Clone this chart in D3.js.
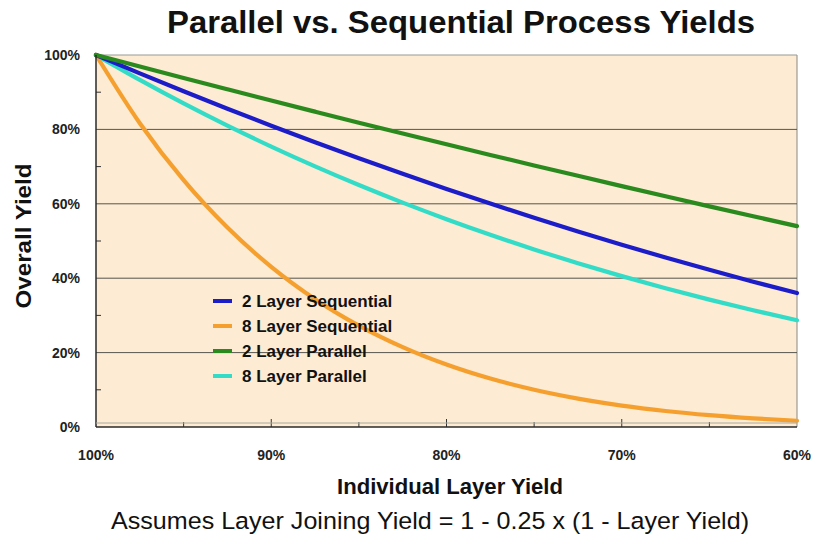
<!DOCTYPE html>
<html><head><meta charset="utf-8">
<script src="https://cdn.jsdelivr.net/npm/d3@7"></script>
<style>
body{margin:0;background:#fff;}
svg{display:block;font-family:"Liberation Sans",Arial,sans-serif;}
</style></head>
<body><svg id="c" width="816" height="538"></svg>
<script>
const layerYield = [1.000,0.975,0.950,0.925,0.900,0.875,0.850,0.825,0.800,0.775,0.750,0.725,0.700,0.675,0.650,0.625,0.600];
const seq2 = [1.0,0.9506,0.9025,0.8556,0.81,0.7656,0.7225,0.6806,0.64,0.6006,0.5625,0.5256,0.49,0.4556,0.4225,0.3906,0.36];
const seq8 = [1.0,0.8167,0.6634,0.5360,0.4305,0.3436,0.2725,0.2146,0.1678,0.1301,0.1001,0.0763,0.0576,0.0431,0.0319,0.0233,0.0168];
const par2 = [1.0,0.9689,0.9381,0.9077,0.8775,0.8477,0.8181,0.7889,0.76,0.7314,0.7031,0.6752,0.6475,0.6202,0.5931,0.5664,0.54];
const par8 = [1.0,0.9331,0.8699,0.8102,0.7538,0.7006,0.6505,0.6032,0.5587,0.5168,0.4774,0.4404,0.4056,0.3730,0.3424,0.3138,0.2870];
const seriesNames = ["2 Layer Sequential","8 Layer Sequential","2 Layer Parallel","8 Layer Parallel"];
const seriesColors = ["#1c1cc8","#f5a02e","#2a8a1e","#33dcc6"];
const xTicks = [1.0,0.9,0.8,0.7,0.6];
const yTicks = [0,0.2,0.4,0.6,0.8,1.0];

const svg = d3.select("#c");
const L=96,R=797,T=55,B=427;
const x = d3.scaleLinear().domain([1.0,0.6]).range([L,R]);
const y = d3.scaleLinear().domain([0,1]).range([B,T]);

svg.append("rect").attr("x",L).attr("y",T).attr("width",R-L).attr("height",B-T).attr("fill","#fdebd3");

svg.append("line").attr("x1",L).attr("x2",R).attr("y1",T).attr("y2",T).attr("stroke","#9a9a94").attr("stroke-width",1.2);
svg.append("line").attr("x1",R).attr("x2",R).attr("y1",T).attr("y2",B).attr("stroke","#9a9a94").attr("stroke-width",1.2);

svg.append("g").selectAll("line").data([0.2,0.4,0.6,0.8]).join("line")
  .attr("x1",L).attr("x2",R).attr("y1",d=>y(d)).attr("y2",d=>y(d))
  .attr("stroke","#55554f").attr("stroke-width",1);

svg.append("g").selectAll("line").data([0.1,0.3,0.5,0.7,0.9]).join("line")
  .attr("x1",L).attr("x2",L+5).attr("y1",d=>y(d)).attr("y2",d=>y(d)).attr("stroke","#333").attr("stroke-width",1);
svg.append("g").selectAll("line").data([0.95,0.9,0.85,0.8,0.75,0.7,0.65]).join("line")
  .attr("x1",d=>x(d)).attr("x2",d=>x(d)).attr("y1",B).attr("y2",d=>B-(Math.round(d*100)%10===0?8:5)).attr("stroke","#333").attr("stroke-width",1);

const line = d3.line().x((d,i)=>x(layerYield[i])).y(d=>y(d)).curve(d3.curveMonotoneX);
const data = [seq2,seq8,par2,par8];
[3,1,0,2].forEach(k=>{
  svg.append("path").datum(data[k]).attr("d",line).attr("fill","none")
    .attr("stroke",seriesColors[k]).attr("stroke-width",4.2).attr("stroke-linecap","round");
});

svg.append("line").attr("x1",L).attr("x2",L).attr("y1",T).attr("y2",B).attr("stroke","#2a2a2a").attr("stroke-width",1.5);
svg.append("line").attr("x1",L).attr("x2",R).attr("y1",B-4).attr("y2",B-4).attr("stroke","#a8a89c").attr("stroke-width",1);
svg.append("line").attr("x1",L).attr("x2",R).attr("y1",B).attr("y2",B).attr("stroke","#2a2a2a").attr("stroke-width",1.5);

const pct = d3.format(".0%");
svg.append("g").selectAll("text").data(yTicks).join("text")
  .attr("x",80).attr("y",d=>y(d)+5).attr("text-anchor","end")
  .attr("font-size",14).attr("font-weight","bold").attr("fill","#222").text(pct);
svg.append("g").selectAll("text").data(xTicks).join("text")
  .attr("x",d=>x(d)).attr("y",460).attr("text-anchor","middle")
  .attr("font-size",14).attr("font-weight","bold").attr("fill","#222").text(pct);

svg.append("text").attr("x",461).attr("y",33).attr("text-anchor","middle")
  .attr("font-size",32).attr("font-weight","bold").attr("fill","#111")
  .attr("textLength",588).attr("lengthAdjust","spacingAndGlyphs").text("Parallel vs. Sequential Process Yields");
svg.append("text").attr("x",450).attr("y",494).attr("text-anchor","middle")
  .attr("font-size",21.5).attr("font-weight","bold").attr("fill","#111")
  .attr("textLength",226).attr("lengthAdjust","spacingAndGlyphs").text("Individual Layer Yield");
svg.append("text").attr("x",430).attr("y",529).attr("text-anchor","middle")
  .attr("font-size",24.5).attr("fill","#111")
  .attr("textLength",638).attr("lengthAdjust","spacingAndGlyphs").text("Assumes Layer Joining Yield = 1 - 0.25 x (1 - Layer Yield)");
svg.append("text").attr("transform","translate(31,236) rotate(-90)").attr("text-anchor","middle")
  .attr("font-size",21.5).attr("font-weight","bold").attr("fill","#111")
  .attr("textLength",145).attr("lengthAdjust","spacingAndGlyphs").text("Overall Yield");

const lg = svg.append("g");
seriesNames.forEach((n,i)=>{
  const yy = 301 + i*25;
  lg.append("line").attr("x1",213).attr("x2",232).attr("y1",yy).attr("y2",yy)
    .attr("stroke",seriesColors[i]).attr("stroke-width",4);
  lg.append("text").attr("x",242).attr("y",yy+6).attr("font-size",17).attr("font-weight","bold")
    .attr("fill","#111").text(n);
});
</script></body></html>
